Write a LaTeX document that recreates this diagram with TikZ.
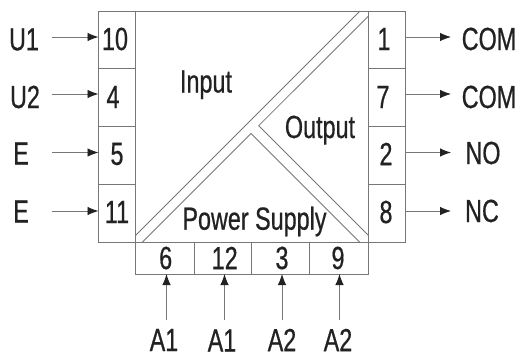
\documentclass[tikz,border=0pt]{standalone}
\usepackage{fontspec}
\setmainfont[FakeStretch=0.73,FakeBold=0.6]{Liberation Sans}
\usetikzlibrary{arrows.meta}
\definecolor{ln}{HTML}{777777}
\definecolor{tx}{HTML}{222222}
\tikzset{
  cell/.style={draw=ln,line width=0.9pt,inner sep=0pt,outer sep=0pt,anchor=north west},
  lab/.style={font=\fontsize{32}{32}\selectfont,text=tx,inner sep=0pt},
  num/.style={font=\fontsize{32}{32}\selectfont,text=tx,inner sep=0pt},
  arr/.style={draw=ln,line width=0.9pt,-{Latex[length=11pt,width=8.5pt,color=tx]}},
  wall/.style={draw=ln,line width=0.8pt}
}
\begin{document}
\begin{tikzpicture}[x=1pt,y=-1pt]
\useasboundingbox (0,0) rectangle (520,356);
% main body
\node[cell,minimum width=232.5pt,minimum height=231.5pt] (body) at (135.5,11) {};
% left column
\node[cell,minimum width=37pt,minimum height=57pt] (c10) at (98.5,11) {};
\node[cell,minimum width=37pt,minimum height=58pt] (c4) at (98.5,68) {};
\node[cell,minimum width=37pt,minimum height=58.5pt] (c5) at (98.5,126) {};
\node[cell,minimum width=37pt,minimum height=58pt] (c11) at (98.5,184.5) {};
% right column
\node[cell,minimum width=37pt,minimum height=57pt] (c1) at (368,11) {};
\node[cell,minimum width=37pt,minimum height=58pt] (c7) at (368,68) {};
\node[cell,minimum width=37pt,minimum height=58.5pt] (c2) at (368,126) {};
\node[cell,minimum width=37pt,minimum height=58pt] (c8) at (368,184.5) {};
% bottom row
\node[cell,minimum width=58.5pt,minimum height=31.5pt] (c6) at (135.5,242.5) {};
\node[cell,minimum width=57pt,minimum height=31.5pt] (c12) at (194,242.5) {};
\node[cell,minimum width=58.5pt,minimum height=31.5pt] (c3) at (251,242.5) {};
\node[cell,minimum width=58.5pt,minimum height=31.5pt] (c9) at (309.5,242.5) {};
% partition lines
\coordinate (pa) at (135.5,235.5);
\coordinate (pb) at (360,11);
\coordinate (pc) at (142,242.5);
\coordinate (pd) at (251,133.5);
\coordinate (pe) at (360,242.5);
\coordinate (pf) at (368,235);
\coordinate (pg) at (258.7,125.7);
\coordinate (ph) at (368,16.5);
\draw[wall] (pa) -- (pb);
\draw[wall] (pc) -- (pd) -- (pe);
\draw[wall] (pf) -- (pg) -- (ph);
% numbers
\node[num] (n10) at (115,39) {10};
\node[num] (n4) at (113,97) {4};
\node[num] (n5) at (117,154) {5};
\node[num] (n11) at (117,212) {11};
\node[num] (n1) at (384,39) {1};
\node[num] (n7) at (383,97) {7};
\node[num] (n2) at (386,154) {2};
\node[num] (n8) at (386,212) {8};
\node[num] (n6) at (165.7,258) {6};
\node[num] (n12) at (224.7,258) {12};
\node[num] (n3) at (282,258) {3};
\node[num] (n9) at (338,258) {9};
% region labels
\node[lab,anchor=base] (input) at (206,92.5) {Input};
\node[lab,anchor=base] (output) at (320,138) {Output};
\node[lab,anchor=base] (power) at (254.5,229.7) {Power Supply};
% terminal labels
\node[lab] (lu1) at (24,39.5) {U1};
\node[lab] (lu2) at (25,97) {U2};
\node[lab] (le1) at (21,153.5) {E};
\node[lab] (le2) at (21,211.5) {E};
\node[lab] (lc1) at (489,39) {COM};
\node[lab] (lc2) at (489,97) {COM};
\node[lab] (lno) at (483,153) {NO};
\node[lab] (lnc) at (482,211) {NC};
\node[lab] (la1) at (164,340) {A1};
\node[lab] (la2) at (222,340.5) {A1};
\node[lab] (la3) at (282,340) {A2};
\node[lab] (la4) at (338,340) {A2};
% arrow free ends
\coordinate (s1) at (52,37);
\coordinate (s2) at (52,94);
\coordinate (s3) at (52,152.5);
\coordinate (s4) at (52,211);
\coordinate (t1) at (451,37);
\coordinate (t2) at (451,94);
\coordinate (t3) at (451,152.5);
\coordinate (t4) at (451,211);
\coordinate (b1) at (166.5,320);
\coordinate (b2) at (224.5,320);
\coordinate (b3) at (282,320);
\coordinate (b4) at (339.5,320);
\draw[arr] (s1) -- (s1 -| c10.west);
\draw[arr] (s2) -- (s2 -| c4.west);
\draw[arr] (s3) -- (s3 -| c5.west);
\draw[arr] (s4) -- (s4 -| c11.west);
\draw[arr] (t1 -| c1.east) -- (t1);
\draw[arr] (t2 -| c7.east) -- (t2);
\draw[arr] (t3 -| c2.east) -- (t3);
\draw[arr] (t4 -| c8.east) -- (t4);
\draw[arr] (b1) -- (b1 |- c6.south);
\draw[arr] (b2) -- (b2 |- c12.south);
\draw[arr] (b3) -- (b3 |- c3.south);
\draw[arr] (b4) -- (b4 |- c9.south);
\end{tikzpicture}
\end{document}
